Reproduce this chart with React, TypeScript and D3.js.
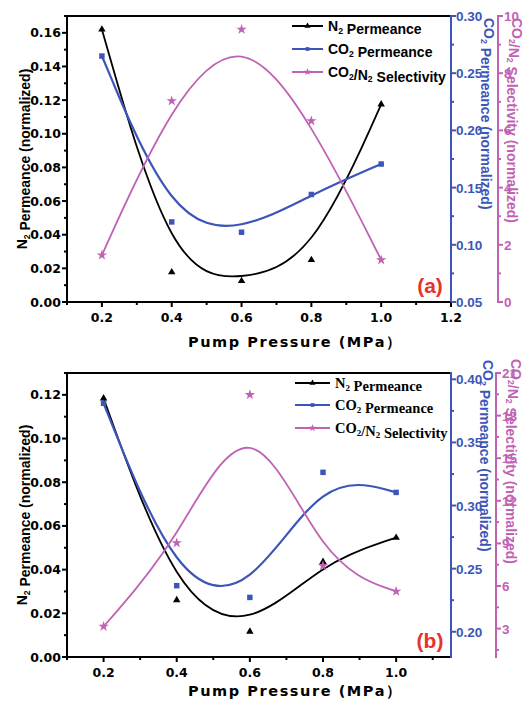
import React from "react";
import * as d3 from "d3";

const pressure = [0.2, 0.4, 0.6, 0.8, 1.0];
const n2A = [0.162, 0.0177, 0.0125, 0.025, 0.1175];
const co2A = [0.265, 0.12, 0.111, 0.144, 0.1706];
const selA = [1.64, 7.03, 9.53, 6.33, 1.47];
const n2B = [0.1184, 0.0261, 0.0116, 0.0436, 0.0546];
const co2B = [0.381, 0.2365, 0.2272, 0.3263, 0.3104];
const selB = [3.15, 9.03, 19.47, 7.43, 5.62];

const xTicksA = [0.2, 0.4, 0.6, 0.8, 1.0, 1.2];
const xTicksB = [0.2, 0.4, 0.6, 0.8, 1.0];
const n2TicksA = [0, 0.02, 0.04, 0.06, 0.08, 0.1, 0.12, 0.14, 0.16];
const co2TicksA = [0.05, 0.1, 0.15, 0.2, 0.25, 0.3];
const selTicksA = [0, 2, 4, 6, 8, 10];
const n2TicksB = [0, 0.02, 0.04, 0.06, 0.08, 0.1, 0.12];
const co2TicksB = [0.2, 0.25, 0.3, 0.35, 0.4];
const selTicksB = [3, 6, 9, 12, 15, 18, 21];

const BLUE = "#3b56b8";
const MAG = "#c062b4";
const RED = "#e8322c";

function minors(major: number[], domain: number[]) {
  const step = (major[1] - major[0]) / 2;
  const lo = Math.min(domain[0], domain[1]);
  const hi = Math.max(domain[0], domain[1]);
  const out: number[] = [];
  for (let v = major[0] - step * 20; v <= hi + 1e-9; v += step) {
    if (v < lo - 1e-9) continue;
    if (major.some((m) => Math.abs(m - v) < step / 10)) continue;
    out.push(v);
  }
  return out;
}

function Sub({ t }: { t: string }) {
  return (
    <>
      <tspan dy="0.3em" fontSize="0.62em">{t}</tspan>
      <tspan dy="-0.3em">{""}</tspan>
    </>
  );
}

type PanelProps = {
  top: number;
  bottom: number;
  xDomain: number[];
  leftDomain: number[];
  blueDomain: number[];
  magDomain: number[];
  n2: number[];
  co2: number[];
  sel: number[];
  xTicks: number[];
  leftTicks: number[];
  blueTicks: number[];
  magTicks: number[];
  magX: number;
  label: string;
  legendFont: string;
  legendSize: number;
  legendY: number[];
  legendX: number[];
  blueTitleX: number;
  magTitleX: number;
  blueTitleY: number;
  magTitleY: number;
  xTitleDy: number;
};

const SANS = "'Liberation Sans', Arial, sans-serif";
const WIDE = "'DejaVu Sans', sans-serif";

function Panel(p: PanelProps) {
  const L = 67;
  const R = 451;
  const x = d3.scaleLinear().domain(p.xDomain).range([L, R]);
  const yl = d3.scaleLinear().domain(p.leftDomain).range([p.bottom, p.top]);
  const yb = d3.scaleLinear().domain(p.blueDomain).range([p.bottom, p.top]);
  const ym = d3.scaleLinear().domain(p.magDomain).range([p.bottom, p.top]);

  const mk = (ys: d3.ScaleLinear<number, number>, vals: number[]) =>
    d3
      .line<number>()
      .x((_, i) => x(pressure[i]))
      .y((v) => ys(v))
      .curve(d3.curveBasis)(vals) as string;

  const tri = d3.symbol().type(d3.symbolTriangle).size(24)() as string;
  const sq = d3.symbol().type(d3.symbolSquare).size(30)() as string;
  const star = d3.symbol().type(d3.symbolStar).size(34)() as string;
  const triS = d3.symbol().type(d3.symbolTriangle).size(16)() as string;
  const sqS = d3.symbol().type(d3.symbolSquare).size(14)() as string;
  const starS = d3.symbol().type(d3.symbolStar).size(18)() as string;

  const f2 = d3.format(".2f");
  const f1 = d3.format(".1f");
  const xMin = minors(p.xTicks, p.xDomain);
  const lMin = minors(p.leftTicks, p.leftDomain);
  const bMin = minors(p.blueTicks, p.blueDomain);
  const mMin = minors(p.magTicks, p.magDomain);

  const midY = (p.top + p.bottom) / 2;
  const fs = 13.5;

  return (
    <g>
      {/* curves */}
      <path d={mk(yl, p.n2)} fill="none" stroke="#000" strokeWidth={1.8} />
      <path d={mk(yb, p.co2)} fill="none" stroke={BLUE} strokeWidth={2.2} />
      <path d={mk(ym, p.sel)} fill="none" stroke={MAG} strokeWidth={1.8} />
      {/* markers */}
      {p.n2.map((v, i) => (
        <path key={"n" + i} d={tri} transform={`translate(${x(pressure[i])},${yl(v)})`} fill="#000" />
      ))}
      {p.co2.map((v, i) => (
        <path key={"c" + i} d={sq} transform={`translate(${x(pressure[i])},${yb(v)})`} fill={BLUE} />
      ))}
      {p.sel.map((v, i) => (
        <path key={"s" + i} d={star} transform={`translate(${x(pressure[i])},${ym(v)})`} fill={MAG} />
      ))}

      {/* frame */}
      <line x1={L} x2={R} y1={p.top} y2={p.top} stroke="#000" strokeWidth={2} />
      <line x1={L} x2={L} y1={p.top - 1} y2={p.bottom + 1} stroke="#000" strokeWidth={2} />
      <line x1={L - 1} x2={R} y1={p.bottom} y2={p.bottom} stroke="#000" strokeWidth={2} />
      <line x1={R} x2={R} y1={p.top - 1} y2={p.bottom + 1} stroke={BLUE} strokeWidth={2} />
      <line x1={p.magX} x2={p.magX} y1={p.top - 1} y2={p.bottom + 1} stroke={MAG} strokeWidth={2} />

      {/* bottom axis */}
      {p.xTicks.map((t) => (
        <g key={"xt" + t}>
          <line x1={x(t)} x2={x(t)} y1={p.bottom} y2={p.bottom + 5} stroke="#000" strokeWidth={2} />
          <text x={x(t)} y={p.bottom + 20} textAnchor="middle" fontFamily={WIDE} fontWeight="bold" fontSize={12.5}>
            {f1(t)}
          </text>
        </g>
      ))}
      {xMin.map((t) => (
        <line key={"xm" + t} x1={x(t)} x2={x(t)} y1={p.bottom} y2={p.bottom + 3} stroke="#000" strokeWidth={2} />
      ))}
      <text x={188} y={p.bottom + p.xTitleDy} fontFamily={WIDE} fontWeight="bold" fontSize={14.5} textLength={213} lengthAdjust="spacing">
        Pump Pressure (MPa）
      </text>

      {/* left axis */}
      {p.leftTicks.map((t) => (
        <g key={"lt" + t}>
          <line x1={L - 5} x2={L} y1={yl(t)} y2={yl(t)} stroke="#000" strokeWidth={2} />
          <text x={L - 6} y={yl(t) + 4.5} textAnchor="end" fontFamily={WIDE} fontWeight="bold" fontSize={12.5}>
            {f2(t)}
          </text>
        </g>
      ))}
      {lMin.map((t) => (
        <line key={"lm" + t} x1={L - 3} x2={L} y1={yl(t)} y2={yl(t)} stroke="#000" strokeWidth={2} />
      ))}
      <text transform={`translate(27,${midY}) rotate(-90)`} textAnchor="middle" fontFamily={SANS} fontWeight="bold" fontSize={14}>
        N<Sub t="2" /> Permeance (normalized)
      </text>

      {/* blue axis */}
      {p.blueTicks.map((t) => (
        <g key={"bt" + t}>
          <line x1={R} x2={R + 5} y1={yb(t)} y2={yb(t)} stroke={BLUE} strokeWidth={2} />
          <text x={R + 5} y={yb(t) + 5} fill={BLUE} fontFamily={SANS} fontWeight="bold" fontSize={fs}>
            {f2(t)}
          </text>
        </g>
      ))}
      {bMin.map((t) => (
        <line key={"bm" + t} x1={R} x2={R + 3} y1={yb(t)} y2={yb(t)} stroke={BLUE} strokeWidth={2} />
      ))}
      <text transform={`translate(${p.blueTitleX},${p.blueTitleY}) rotate(90)`} fill={BLUE} fontFamily={SANS} fontWeight="bold" fontSize={14}>
        CO<Sub t="2" /> Permeance (normalized)
      </text>

      {/* magenta axis */}
      {p.magTicks.map((t) => (
        <g key={"mt" + t}>
          <line x1={p.magX} x2={p.magX + 5} y1={ym(t)} y2={ym(t)} stroke={MAG} strokeWidth={2} />
          <text x={p.magX + 6} y={ym(t) + 5} fill={MAG} fontFamily={SANS} fontWeight="bold" fontSize={fs}>
            {t}
          </text>
        </g>
      ))}
      {mMin.map((t) => (
        <line key={"mm" + t} x1={p.magX} x2={p.magX + 3} y1={ym(t)} y2={ym(t)} stroke={MAG} strokeWidth={2} />
      ))}
      <text transform={`translate(${p.magTitleX},${p.magTitleY}) rotate(90)`} fill={MAG} fontFamily={SANS} fontWeight="bold" fontSize={14}>
        CO<Sub t="2" />/N<Sub t="2" /> Selectivity (normalized)
      </text>

      {/* legend */}
      {[
        { c: "#000", m: triS, t: (<>N<Sub t="2" /> Permeance</>) },
        { c: BLUE, m: sqS, t: (<>CO<Sub t="2" /> Permeance</>) },
        { c: MAG, m: starS, t: (<>CO<Sub t="2" />/N<Sub t="2" /> Selectivity</>) },
      ].map((e, i) => (
        <g key={"lg" + i}>
          <line x1={p.legendX[0]} x2={p.legendX[1]} y1={p.legendY[i]} y2={p.legendY[i]} stroke={e.c} strokeWidth={2} />
          <path d={e.m} transform={`translate(${(p.legendX[0] + p.legendX[1]) / 2},${p.legendY[i]})`} fill={e.c} />
          <text x={p.legendX[1] + 5} y={p.legendY[i] + 5} fontFamily={p.legendFont} fontWeight="bold" fontSize={p.legendSize}>
            {e.t}
          </text>
        </g>
      ))}

      <text x={430} y={p.bottom - 9} textAnchor="middle" fill={RED} fontFamily={SANS} fontWeight="bold" fontSize={21}>
        {p.label}
      </text>
    </g>
  );
}

export default function App() {
  return (
    <svg width={525} height={701} style={{ position: "absolute", left: 0, top: 0, background: "#fff" }}>
      <rect width={525} height={701} fill="#fff" />
      <Panel
        top={16}
        bottom={302}
        xDomain={[0.1, 1.2]}
        leftDomain={[0, 0.17]}
        blueDomain={[0.05, 0.3]}
        magDomain={[0, 10]}
        n2={n2A}
        co2={co2A}
        sel={selA}
        xTicks={xTicksA}
        leftTicks={n2TicksA}
        blueTicks={co2TicksA}
        magTicks={selTicksA}
        magX={498}
        label="(a)"
        legendFont={SANS}
        legendSize={14}
        legendY={[26, 49, 72]}
        legendX={[292, 323]}
        blueTitleX={484}
        magTitleX={512}
        blueTitleY={18}
        magTitleY={18}
        xTitleDy={45}
      />
      <Panel
        top={373}
        bottom={657}
        xDomain={[0.1, 1.15]}
        leftDomain={[0, 0.13]}
        blueDomain={[0.18, 0.405]}
        magDomain={[1, 21]}
        n2={n2B}
        co2={co2B}
        sel={selB}
        xTicks={xTicksB}
        leftTicks={n2TicksB}
        blueTicks={co2TicksB}
        magTicks={selTicksB}
        magX={496}
        label="(b)"
        legendFont="'Liberation Serif', 'Times New Roman', serif"
        legendSize={14.5}
        legendY={[383, 405, 428]}
        legendX={[295, 330]}
        blueTitleX={483}
        magTitleX={511}
        blueTitleY={360}
        magTitleY={359}
        xTitleDy={39}
      />
    </svg>
  );
}
